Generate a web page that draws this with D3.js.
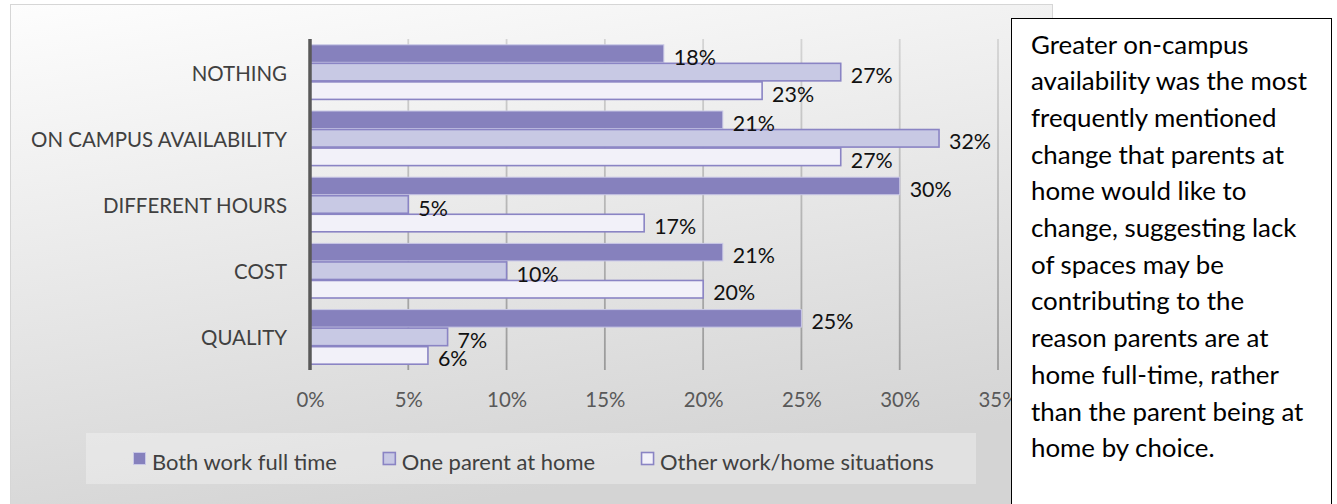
<!DOCTYPE html>
<html>
<head>
<meta charset="utf-8">
<script src="https://cdn.jsdelivr.net/npm/d3@7"></script>
<style>
  html, body { margin: 0; padding: 0; background: #ffffff; }
  svg { display: block; }
  text { font-family: Lato, "Open Sans", sans-serif; }
</style>
</head>
<body>
<svg id="chart" width="1337" height="504"></svg>
<script>
// Survey answers: what parents would change about child care, by family work situation
const categories = ["NOTHING", "ON CAMPUS AVAILABILITY", "DIFFERENT HOURS", "COST", "QUALITY"];
const seriesNames = ["Both work full time", "One parent at home", "Other work/home situations"];
const bothWorkFullTime = [0.18, 0.21, 0.30, 0.21, 0.25];
const oneParentAtHome = [0.27, 0.32, 0.05, 0.10, 0.07];
const otherSituations = [0.23, 0.27, 0.17, 0.20, 0.06];
const xTicks = [0, 0.05, 0.10, 0.15, 0.20, 0.25, 0.30, 0.35];
const noteLines = [
  "Greater on-campus",
  "availability was the most",
  "frequently mentioned",
  "change that parents at",
  "home would like to",
  "change, suggesting lack",
  "of spaces may be",
  "contributing to the",
  "reason parents are at",
  "home full-time, rather",
  "than the parent being at",
  "home by choice."
];

const seriesValues = [bothWorkFullTime, oneParentAtHome, otherSituations];
const fills = ["#8681bd", "#c8c9e4", "#f2f1f9"];
const strokes = ["#c9c8e6", "#8a84c4", "#8a84c4"];

const svg = d3.select("#chart");
const pct = d3.format(".0%");

// font size that makes a sample string reach a given width
function fitSize(sample, width) {
  const t = svg.append("text").attr("font-size", 100).text(sample);
  const w = t.node().getComputedTextLength();
  t.remove();
  return 100 * width / w;
}
const catSize = fitSize("ON CAMPUS AVAILABILITY", 256);
const numSize = fitSize("10%", 42);
const tickSize = fitSize("10%", 40);
const legSize = fitSize("Both work full time", 185);
const noteSize = fitSize("availability was the most", 276);

// chart area background
const defs = svg.append("defs");
const bg = defs.append("linearGradient").attr("id", "bg")
  .attr("x1", 0).attr("y1", 0).attr("x2", 0.3).attr("y2", 1);
bg.append("stop").attr("offset", "0%").attr("stop-color", "#fdfdfd");
bg.append("stop").attr("offset", "100%").attr("stop-color", "#d4d4d4");

const grid = defs.append("linearGradient").attr("id", "gridGrad")
  .attr("gradientUnits", "userSpaceOnUse")
  .attr("x1", 0).attr("y1", 39).attr("x2", 0).attr("y2", 370);
grid.append("stop").attr("offset", "0%").attr("stop-color", "#d4d4d4");
grid.append("stop").attr("offset", "100%").attr("stop-color", "#9a9a9a");

svg.append("rect")
  .attr("x", 10.5).attr("y", 4.5).attr("width", 1042).attr("height", 520)
  .attr("fill", "url(#bg)").attr("stroke", "#d6d6d6");

// scales
const x = d3.scaleLinear().domain([0, 0.35]).range([310, 998]);
const y = d3.scaleBand().domain(categories).range([39, 370])
  .paddingInner(0.16).paddingOuter(0.08);
const ySeries = d3.scaleBand().domain(d3.range(seriesNames.length)).range([0, y.bandwidth()]);

// vertical gridlines
svg.append("g").selectAll("line").data(xTicks.slice(1)).join("line")
  .attr("x1", d => x(d)).attr("x2", d => x(d))
  .attr("y1", 39).attr("y2", 370)
  .attr("stroke", "url(#gridGrad)").attr("stroke-width", 1.8);

// x axis tick labels
const xAxis = d3.axisBottom(x).tickValues(xTicks).tickFormat(pct).tickSize(0).tickPadding(0);
const gx = svg.append("g").attr("transform", "translate(0,393)").call(xAxis);
gx.select(".domain").remove();
gx.selectAll("text")
  .attr("font-family", "Lato, 'Open Sans', sans-serif")
  .attr("font-size", tickSize).attr("fill", "#595959");

// category labels
const yAxis = d3.axisLeft(y).tickSize(0).tickPadding(0);
const gy = svg.append("g").attr("transform", "translate(287,2)").call(yAxis);
gy.select(".domain").remove();
gy.selectAll("text")
  .attr("font-family", "Lato, 'Open Sans', sans-serif")
  .attr("font-size", catSize).attr("fill", "#404040");

// one record per bar
const barData = [];
categories.forEach((cat, ci) => {
  seriesValues.forEach((vals, si) => barData.push({ cat, si, v: vals[ci] }));
});

// bars
svg.append("g").selectAll("rect").data(barData).join("rect")
  .attr("x", x(0))
  .attr("y", d => y(d.cat) + ySeries(d.si) + 0.5)
  .attr("width", d => x(d.v) - x(0))
  .attr("height", ySeries.bandwidth() - 1)
  .attr("fill", d => fills[d.si])
  .attr("stroke", d => strokes[d.si])
  .attr("stroke-width", d => d.si === 0 ? 1 : 1.6);

// value labels, drawn above all bars
svg.append("g").selectAll("text").data(barData).join("text")
  .attr("x", d => x(d.v) + 10)
  .attr("y", d => y(d.cat) + ySeries(d.si) + ySeries.bandwidth() / 2 + 3)
  .attr("dominant-baseline", "central")
  .attr("font-size", numSize).attr("fill", "#111111")
  .text(d => pct(d.v));

// value axis line
svg.append("line")
  .attr("x1", 310).attr("x2", 310).attr("y1", 39).attr("y2", 370)
  .attr("stroke", "#595959").attr("stroke-width", 3.5);

// legend
svg.append("rect")
  .attr("x", 86).attr("y", 433).attr("width", 890).attr("height", 51)
  .attr("fill", "#ffffff").attr("fill-opacity", 0.3);

let lx = 133;
seriesNames.forEach((name, i) => {
  svg.append("rect")
    .attr("x", lx + 0.5).attr("y", 452.5).attr("width", 12).attr("height", 12)
    .attr("fill", fills[i]).attr("stroke", strokes[i]).attr("stroke-width", i === 0 ? 1 : 1.6);
  const t = svg.append("text")
    .attr("x", lx + 19).attr("y", 461)
    .attr("dominant-baseline", "central")
    .attr("font-size", legSize).attr("fill", "#404040")
    .text(name);
  lx += 19 + t.node().getComputedTextLength() + 46;
});

// note box
svg.append("rect")
  .attr("x", 1011.5).attr("y", 18.5).attr("width", 320).attr("height", 500)
  .attr("fill", "#ffffff").attr("stroke", "#000000").attr("stroke-width", 1);

svg.append("g").selectAll("text").data(noteLines).join("text")
  .attr("x", 1031)
  .attr("y", (d, i) => 53.5 + i * 36.7)
  .attr("font-size", noteSize).attr("fill", "#000000")
  .text(d => d);
</script>
</body>
</html>
